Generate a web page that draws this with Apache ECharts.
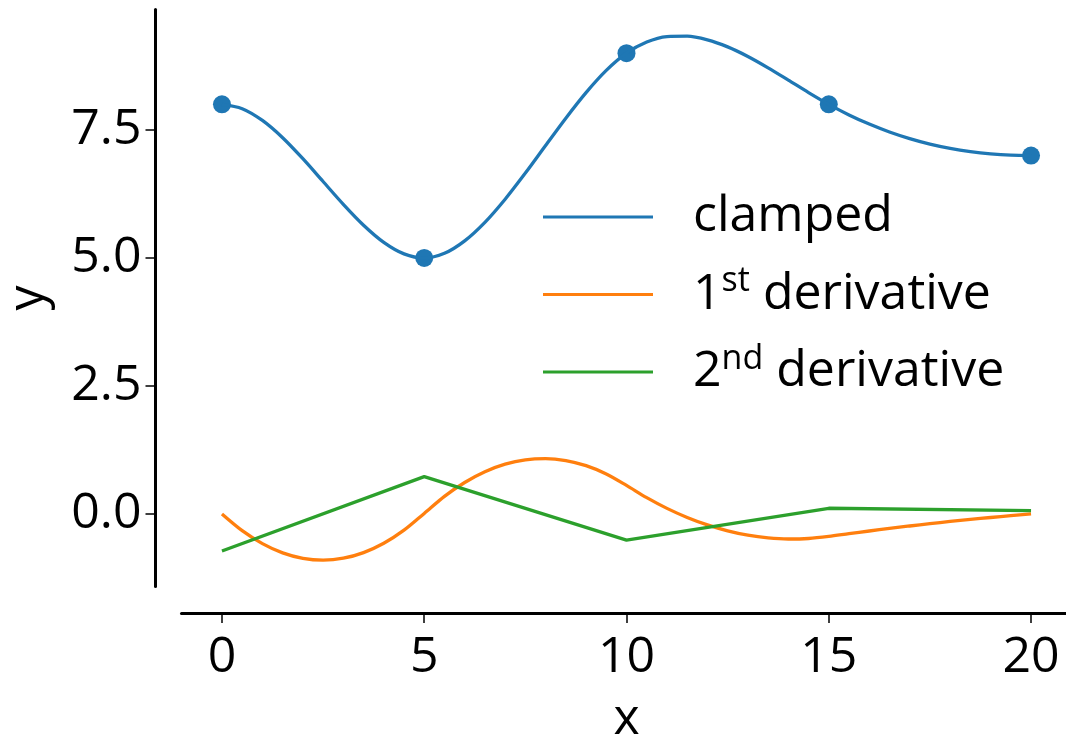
<!DOCTYPE html>
<html>
<head>
<meta charset="utf-8">
<script src="https://cdn.jsdelivr.net/npm/echarts@6/dist/echarts.min.js"></script>
<style>html,body{margin:0;padding:0;background:#fff}#c{width:1066px;height:736px}</style>
</head>
<body>
<div id="c"></div>
<script>
// x sample positions (step 0.5)
var xs = [0,0.5,1,1.5,2,2.5,3,3.5,4,4.5,5,5.5,6,6.5,7,7.5,8,8.5,9,9.5,10,10.5,11,11.5,12,12.5,13,13.5,14,14.5,15,15.5,16,16.5,17,17.5,18,18.5,19,19.5,20];
// clamped spline values
var clamped = [8.000,7.916,7.686,7.349,6.939,6.493,6.048,5.640,5.305,5.080,5.000,
               5.091,5.334,5.696,6.148,6.658,7.196,7.730,8.229,8.663,9.000,
               9.217,9.323,9.332,9.260,9.123,8.936,8.714,8.474,8.231,8.000,
               7.794,7.615,7.461,7.332,7.225,7.141,7.078,7.034,7.008,7.000];
// first derivative
var deriv1 = [0.000,-0.326,-0.579,-0.760,-0.867,-0.903,-0.865,-0.755,-0.573,-0.317,0.011,
              0.344,0.615,0.825,0.972,1.058,1.082,1.043,0.943,0.781,0.557,
              0.318,0.109,-0.068,-0.214,-0.329,-0.414,-0.467,-0.489,-0.479,-0.439,
              -0.385,-0.333,-0.283,-0.235,-0.190,-0.147,-0.107,-0.069,-0.033,0.000];
// knots
var knotX = [0,5,10,15,20];
var knotY = [8,5,9,8,7];
// second derivative at knots
var deriv2 = [-0.724,0.729,-0.510,0.111,0.064];
// ticks
var xTicks = [0,5,10,15,20];
var yTicks = [0,2.5,5,7.5];
var seriesNames = ['clamped','1st derivative','2nd derivative'];

var FONT = 'Open Sans';
function pairs(a,b){ return a.map(function(v,i){ return [v,b[i]]; }); }

var chart = echarts.init(document.getElementById('c'), null, {renderer:'canvas'});
chart.setOption({
  animation:false,
  backgroundColor:'#ffffff',
  grid:{left:181.5, top:9.6, width:890, height:576.8, containLabel:false, outerBoundsMode:'none'},
  xAxis:{
    type:'value', min:-1, max:21, offset:26.5,
    name:'x', nameLocation:'middle', nameGap:82,
    nameTextStyle:{fontFamily:FONT, fontSize:50, color:'#000'},
    axisLine:{show:true, onZero:false, lineStyle:{color:'#000', width:3}},
    axisTick:{show:true, length:10, lineStyle:{color:'#000', width:1.5}, customValues:xTicks},
    axisLabel:{fontFamily:FONT, fontSize:50, color:'#000', margin:20, customValues:xTicks,
      formatter:function(v){return String(v);}},
    splitLine:{show:false}
  },
  yAxis:{
    type:'value', min:-1.415, max:9.851, offset:26,
    name:'y', nameLocation:'middle', nameGap:102,
    nameTextStyle:{fontFamily:FONT, fontSize:50, color:'#000'},
    axisLine:{show:true, onZero:false, lineStyle:{color:'#000', width:3}},
    axisTick:{show:true, length:10, lineStyle:{color:'#000', width:1.5}, customValues:yTicks},
    axisLabel:{fontFamily:FONT, fontSize:50, color:'#000', margin:14, customValues:yTicks,
      formatter:function(v){return v.toFixed(1);}},
    splitLine:{show:false}
  },
  legend:{
    data:seriesNames,
    orient:'vertical', left:543, top:192, padding:0,
    icon:'rect', itemWidth:110, itemHeight:3, itemGap:22.5,
    textStyle:{fontFamily:FONT, fontSize:50, color:'#000', padding:[0,0,0,35],
      rich:{
        m:{fontFamily:FONT, fontSize:50, lineHeight:60, color:'#000'},
        s:{fontFamily:FONT, fontSize:34, lineHeight:30, verticalAlign:'top', color:'#000'}
      }},
    formatter:function(n){
      if(n==='1st derivative') return '{m|1}{s|st}{m| derivative}';
      if(n==='2nd derivative') return '{m|2}{s|nd}{m| derivative}';
      return '{m|'+n+'}';
    }
  },
  series:[
    {name:'clamped', type:'line', data:pairs(xs,clamped), smooth:0.3, symbol:'none',
     lineStyle:{color:'#1f77b4', width:3.3}, itemStyle:{color:'#1f77b4'}},
    {name:'knots', type:'scatter', data:pairs(knotX,knotY), symbolSize:18,
     itemStyle:{color:'#1f77b4', opacity:1}},
    {name:'1st derivative', type:'line', data:pairs(xs,deriv1), smooth:0.3, symbol:'none',
     lineStyle:{color:'#ff7f0e', width:3.3}, itemStyle:{color:'#ff7f0e'}},
    {name:'2nd derivative', type:'line', data:pairs(knotX,deriv2), symbol:'none',
     lineStyle:{color:'#2ca02c', width:3.3}, itemStyle:{color:'#2ca02c'}}
  ]
});
</script>
</body>
</html>
